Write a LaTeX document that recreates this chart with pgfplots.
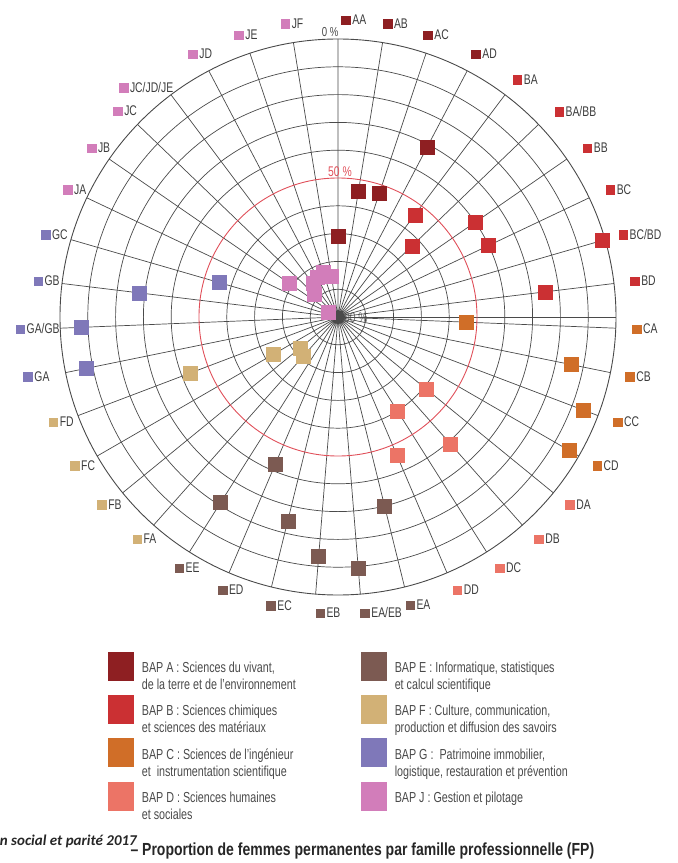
\documentclass[border=0pt]{standalone}
\usepackage{pgfplots}
\pgfplotsset{compat=1.18}
\usepgfplotslibrary{polar}
\usepackage{pgfplotstable}
\usepackage{fontspec}
\setmainfont{Liberation Sans}[FakeStretch=0.74]
\newfontfamily\capfont{Liberation Sans}[FakeStretch=0.8]
\newfontfamily\calib{Carlito}
\definecolor{cA}{HTML}{8E1F22}
\definecolor{cB}{HTML}{CB3033}
\definecolor{cC}{HTML}{D06E28}
\definecolor{cD}{HTML}{EC7466}
\definecolor{cE}{HTML}{7C5A52}
\definecolor{cF}{HTML}{D2B176}
\definecolor{cG}{HTML}{7F78B9}
\definecolor{cJ}{HTML}{D27DBA}
\definecolor{gridc}{HTML}{4A4A4A}
\definecolor{redc}{HTML}{E0505A}
\definecolor{txt}{HTML}{3C3C3C}
\definecolor{legt}{HTML}{4A4A4A}
% \lab{horizontal nudge}{colour}{text}
\newcommand\lab[3]{\kern#1pt\textcolor{#2}{\rule[-0.5pt]{9.5pt}{9.5pt}}\hspace{1.5pt}#3}
\newcommand\labdown[4]{\raisebox{-#1pt}[\height][\depth]{\lab{#2}{#3}{#4}}}
\newcommand\leg[1]{\hspace{8pt}\parbox[c][34pt][t]{219pt}{\raggedright\color{legt}#1}}

% i = category index (AA=0, clockwise), p = proportion of women (%)
\pgfplotstableread{
i p
0 71
1 54
2 53
3 31
}\tabA
\pgfplotstableread{
i p
4 54
5 63
6 40
7 40
8 1
9 25
}\tabB
\pgfplotstableread{
i p
10 54
11 14.5
12 5.5
13 4
}\tabC
\pgfplotstableread{
i p
14 59
15 39
16 60
17 46
}\tabD
\pgfplotstableread{
i p
18 30
19 9.5
20 13.6
21 24.4
22 42.5
23 21
}\tabE
\pgfplotstableread{
i p
24 81
25 82.5
26 73
27 43
}\tabF
\pgfplotstableread{
i p
28 7.4
29 7.5
30 28
31 55.5
}\tabG
\pgfplotstableread{
i p
32 96
33 78.6
34 88
35 85
36 84
37 83
38 85
}\tabJ

\begin{document}
\begin{tikzpicture}
\path[use as bounding box] (0,0) rectangle (678pt,863pt);
\begin{polaraxis}[
  at={(338pt,546pt)}, anchor=center,
  scale only axis, width=556pt, height=556pt,
  ymin=0, ymax=100,
  clip=false,
  xtick={6.9231,16.1538,25.3846,34.6154,43.8462,53.0769,62.3077,71.5385,80.7692,90,
         99.2308,108.4615,117.6923,126.9231,136.1538,145.3846,154.6154,163.8462,173.0769,182.3077,
         191.5385,200.7692,210,219.2308,228.4615,237.6923,246.9231,256.1538,265.3846,274.6154,
         283.8462,293.0769,302.3077,311.5385,320.7692,330,339.2308,348.4615,357.6923},
  xticklabels={\lab{2}{cB}{BD},\lab{0}{cB}{BC/BD},\lab{4}{cB}{BC},\lab{5}{cB}{BB},\lab{7}{cB}{BA/BB},\lab{1}{cB}{BA},
    \lab{0}{cA}{AD},\lab{-4}{cA}{AC},\lab{2}{cA}{AB},\lab{8}{cA}{AA},
    \lab{-5}{cJ}{JF},\lab{-5}{cJ}{JE},\lab{-7}{cJ}{JD},\labdown{8}{-36}{cJ}{JC/JD/JE},\lab{-6}{cJ}{JC},\lab{-2}{cJ}{JB},\lab{-2}{cJ}{JA},
    \lab{-7}{cG}{GC},\lab{-5}{cG}{GB},\lab{-21}{cG}{GA/GB},\lab{-19}{cG}{GA},
    \lab{-7}{cF}{FD},\lab{-6}{cF}{FC},\lab{-6}{cF}{FB},\lab{-4}{cF}{FA},
    \lab{0}{cE}{EE},\lab{1}{cE}{ED},\lab{4}{cE}{EC},\lab{6}{cE}{EB},\lab{3}{cE}{EA/EB},\lab{1}{cE}{EA},
    \lab{3}{cD}{DD},\lab{3}{cD}{DC},\lab{4}{cD}{DB},\lab{2}{cD}{DA},
    \lab{2}{cC}{CD},\lab{2}{cC}{CC},\lab{1}{cC}{CB},\lab{2}{cC}{CA}},
  xticklabel style={font=\fontsize{14}{16}\selectfont, text=txt, inner sep=0pt,
    anchor=west, xshift={19*cos(\tick)-4.75}, yshift={19*sin(\tick)}},
  ytick={10,20,30,40,60,70,80,90},
  yticklabels={},
  extra y ticks={50}, extra y tick labels={},
  extra y tick style={major grid style={draw=redc, line width=0.9pt}},
  major tick length=0pt,
  grid=major,
  major grid style={draw=gridc, line width=0.7pt},
  axis line style={draw=gridc, line width=0.9pt},
  legend columns=2,
  legend cell align=left,
  legend image code/.code={\fill[#1] (0pt,-7pt) rectangle (25.5pt,21pt);},
  legend style={at={(axis description cs:0.0863,-0.1025)}, anchor=north west,
    draw=none, fill=none, inner sep=0pt, outer sep=0pt,
    nodes={inner sep=0pt, outer sep=0pt},
    font=\fontsize{14.5}{17}\selectfont, row sep=11pt},
]
\addplot[only marks, mark=square*, mark size=7pt, color=cA] table[x expr=90-\thisrow{i}*360/39, y expr=100-\thisrow{p}] {\tabA};
\addlegendentry{\leg{BAP A :\ Sciences du vivant,\\de la terre et de l'environnement}}
\addplot[only marks, mark=square*, mark size=7pt, color=cE] table[x expr=90-\thisrow{i}*360/39, y expr=100-\thisrow{p}] {\tabE};
\addlegendentry{\leg{BAP E : Informatique, statistiques\\et calcul scientifique}}
\addplot[only marks, mark=square*, mark size=7pt, color=cB] table[x expr=90-\thisrow{i}*360/39, y expr=100-\thisrow{p}] {\tabB};
\addlegendentry{\leg{BAP B : Sciences chimiques\\et sciences des matériaux}}
\addplot[only marks, mark=square*, mark size=7pt, color=cF] table[x expr=90-\thisrow{i}*360/39, y expr=100-\thisrow{p}] {\tabF};
\addlegendentry{\leg{BAP F : Culture, communication,\\production et diffusion des savoirs}}
\addplot[only marks, mark=square*, mark size=7pt, color=cC] table[x expr=90-\thisrow{i}*360/39, y expr=100-\thisrow{p}] {\tabC};
\addlegendentry{\leg{BAP C : Sciences de l'ingénieur\\et\ \ instrumentation scientifique}}
\addplot[only marks, mark=square*, mark size=7pt, color=cG] table[x expr=90-\thisrow{i}*360/39, y expr=100-\thisrow{p}] {\tabG};
\addlegendentry{\leg{BAP G :\ \ Patrimoine immobilier,\\logistique, restauration et prévention}}
\addplot[only marks, mark=square*, mark size=7pt, color=cD] table[x expr=90-\thisrow{i}*360/39, y expr=100-\thisrow{p}] {\tabD};
\addlegendentry{\leg{BAP D : Sciences humaines\\et sociales}}
\addplot[only marks, mark=square*, mark size=7pt, color=cJ] table[x expr=90-\thisrow{i}*360/39, y expr=100-\thisrow{p}] {\tabJ};
\addlegendentry{\leg{BAP J : Gestion et pilotage}}
\node[text=gridc, font=\fontsize{13}{15}\selectfont] at (axis cs:91.6,102.5) {0 \%};
\node[text=redc, font=\fontsize{14}{16}\selectfont] at (axis cs:89.2,52.2) {50 \%};
\node[text=gridc, font=\fontsize{14}{16}\selectfont, opacity=0.8] at (axis cs:-4,5.4) {100 \%};
\end{polaraxis}
\node[anchor=base west, text=black!85, font=\capfont\bfseries\fontsize{17.5}{19}\selectfont] at (127pt,8pt) {– Proportion de femmes permanentes par famille professionnelle (FP)};
\node[anchor=base east, inner sep=0pt, text=black!85, font=\calib\bfseries\itshape\fontsize{15}{17}\selectfont] at (137pt,17pt) {n social et parité 2017};
\end{tikzpicture}
\end{document}
